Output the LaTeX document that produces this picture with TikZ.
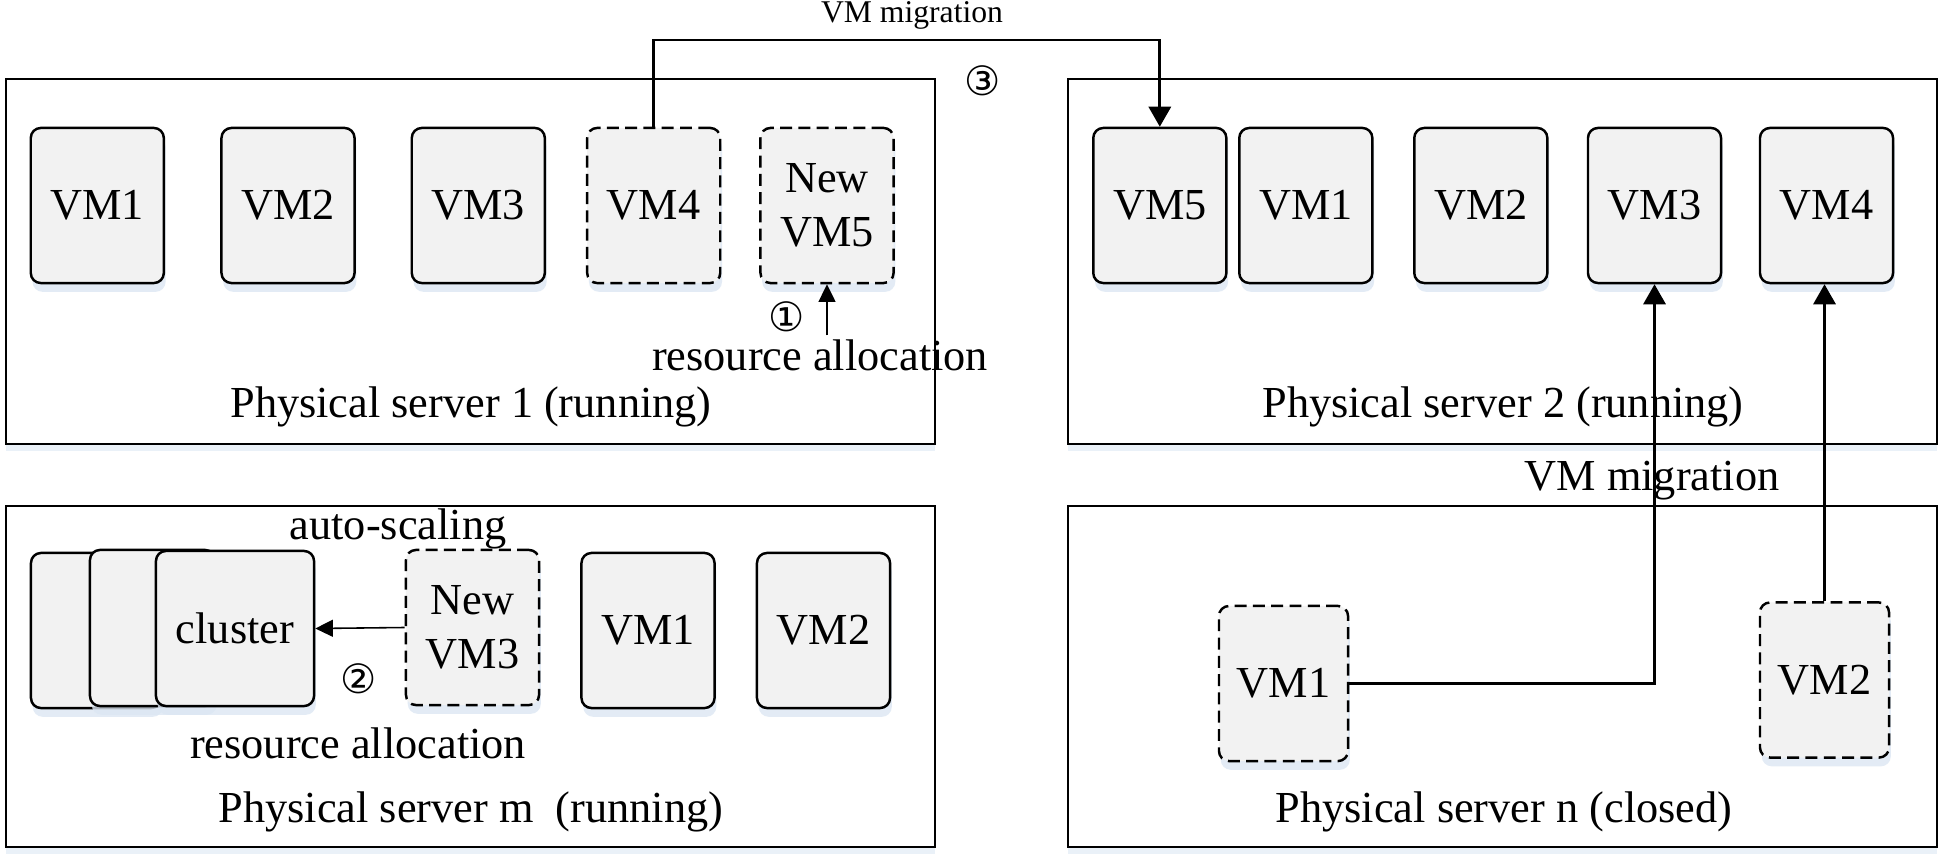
\documentclass[tikz,border=0pt]{standalone}
\usepackage{fontspec}
\setmainfont{Liberation Serif}
\newfontfamily\circfont{DejaVu Sans}
\usetikzlibrary{arrows.meta,shadows}
\definecolor{vmfill}{HTML}{F2F2F2}
\definecolor{shadowblue}{HTML}{DCE7F3}
\newcommand{\txtfont}{\fontsize{12.6pt}{15.4pt}\selectfont}
\newcommand{\smallfont}{\fontsize{9pt}{11pt}\selectfont}
\newcommand{\numfont}{\circfont\fontsize{11.5pt}{13pt}\selectfont}

\begin{document}
\begin{tikzpicture}[x=0.01cm, y=-0.01cm,
  server/.style={draw, line width=0.6pt, fill=white, inner sep=0pt,
    drop shadow={shadow xshift=0pt, shadow yshift=-2pt, fill=shadowblue, opacity=0.6}},
  vmbox/.style={draw, rounded corners=0.1cm, fill=vmfill, line width=0.7pt,
    minimum width=1.33cm, minimum height=1.55cm, inner sep=0pt, align=center, font=\txtfont,
    drop shadow={shadow xshift=0.5pt, shadow yshift=-2.5pt, fill=shadowblue, opacity=0.8}},
  newvm/.style={vmbox, dash pattern=on 3.4pt off 1.8pt},
  caption/.style={anchor=base, inner sep=0pt, font=\txtfont},
  circnum/.style={inner sep=0pt, font=\numfont},
  migrate/.style={line width=0.8pt, -{Triangle[length=5.7pt, width=6.3pt]}},
  alloc/.style={line width=0.45pt, -{Triangle[length=5pt, width=4.8pt]}}]
\useasboundingbox (0,0) rectangle (1946,861);
% physical servers
\node[server, minimum width=9.285cm, minimum height=3.65cm] (ps1) at (470.75,261.5) {};
\node[server, minimum width=8.69cm, minimum height=3.65cm] (ps2) at (1502.5,261.5) {};
\node[server, minimum width=9.285cm, minimum height=3.41cm] (psm) at (470.75,676.5) {};
\node[server, minimum width=8.69cm, minimum height=3.41cm] (psn) at (1502.5,676.5) {};
\node[caption] (cap1) at (471,418) {Physical server 1 (running)};
\node[caption] (cap2) at (1503,418) {Physical server 2 (running)};
\node[caption] (capm) at (471,822) {Physical server m\ \ (running)};
\node[caption] (capn) at (1504,822.5) {Physical server n (closed)};
% server 1
\node[vmbox] (s1vm1) at (97.3,205.5) {VM1};
\node[vmbox] (s1vm2) at (288,205.5) {VM2};
\node[vmbox] (s1vm3) at (478.3,205.5) {VM3};
\node[newvm] (s1vm4) at (653.7,205.5) {VM4};
\node[newvm] (s1vm5) at (827,205.5) {New\\VM5};
% server 2
\node[vmbox] (s2vm5) at (1159.8,205.5) {VM5};
\node[vmbox] (s2vm1) at (1305.8,205.5) {VM1};
\node[vmbox] (s2vm2) at (1480.8,205.5) {VM2};
\node[vmbox] (s2vm3) at (1654.5,205.5) {VM3};
\node[vmbox] (s2vm4) at (1826.5,205.5) {VM4};
% server m
\node[vmbox, minimum width=1.30cm] (back1) at (96,630.5) {};
\node[vmbox, minimum width=1.25cm, minimum height=1.56cm] (back2) at (152.5,628) {};
\node[vmbox, minimum width=1.58cm] (cluster) at (235,628.5) {cluster};
\node[newvm] (smvm3) at (472.5,627.5) {New\\VM3};
\node[vmbox] (smvm1) at (648,630.5) {VM1};
\node[vmbox] (smvm2) at (823.5,630.5) {VM2};
% server n
\node[newvm, minimum width=1.29cm] (snvm1) at (1283.5,683.5) {VM1};
\node[newvm, minimum width=1.29cm] (snvm2) at (1824.5,680) {VM2};
% labels
\node[caption, font=\smallfont] (mig1) at (912,22.7) {VM migration};
\node[circnum] (n3) at (983,81) {③};
\node[caption] (ralloc1) at (820,370.7) {resource allocation};
\node[circnum] (n1) at (787,317) {①};
\node[caption] (autosc) at (398,539) {auto-scaling};
\node[circnum] (n2) at (359,679) {②};
\node[caption] (rallocm) at (358,758) {resource allocation};
\node[caption] (mig2) at (1652,490) {VM migration};
% connectors
\coordinate (mtop) at (652,40);
\draw[migrate] (s1vm4.north) -- (s1vm4.north |- mtop) -| (s2vm5.north);
\draw[alloc] (s1vm5.south |- ralloc1.north) ++(0,-4) -- (s1vm5.south);
\draw[alloc] (smvm3.west) -- (cluster.east);
\draw[migrate] (snvm1.east) -| (s2vm3.south);
\draw[migrate] (snvm2.north) -- (snvm2.north |- s2vm4.south);
\end{tikzpicture}
\end{document}
